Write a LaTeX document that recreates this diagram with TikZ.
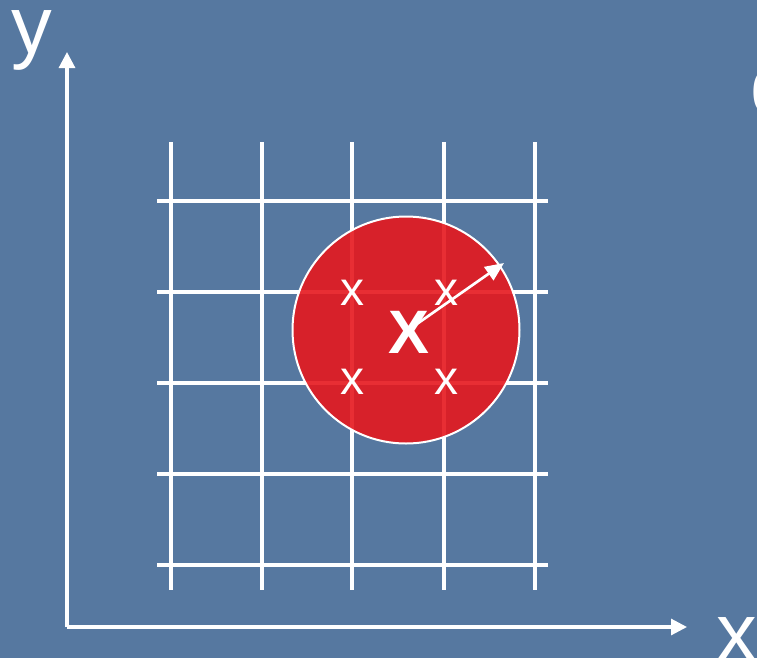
\documentclass[tikz,border=0pt]{standalone}
\usepackage{fontspec}
\setmainfont{Liberation Sans}
\usetikzlibrary{arrows.meta}
\definecolor{bgblue}{RGB}{86,120,160}
\definecolor{discred}{RGB}{230,24,30}
\tikzset{
  gridline/.style={draw=white, line width=2.3pt},
  axisline/.style={draw=white, line width=2.3pt, -{Triangle[length=12pt,width=12pt]}},
  lbl/.style={text=white, inner sep=0pt, font=\fontsize{36}{36}\selectfont},
  biglbl/.style={text=white, inner sep=0pt, font=\fontsize{61}{61}\selectfont},
}
\begin{document}
\begin{tikzpicture}[x=0.75pt,y=-0.75pt]
\fill[bgblue] (0,0) rectangle (757,658);
\useasboundingbox (0,0) rectangle (757,658);
\clip (0,0) rectangle (757,658);
% grid
\foreach \gx in {171,262,352,444,535} \draw[gridline] (\gx,142) -- (\gx,590);
\foreach \gy in {201,292,383,474,565} \draw[gridline] (157,\gy) -- (548,\gy);
% axes
\coordinate (o) at (67,627);
\coordinate (ytip) at (67,52);
\coordinate (xtip) at (687,627);
\draw[axisline] (o) -- (ytip);
\draw[axisline] (o) -- (xtip);
\node[biglbl, anchor=base west] (ylab) at (11,53) {y};
\node[biglbl, anchor=base west] (xlab) at (716,660) {x};
\node[biglbl, anchor=base west] (dlab) at (750,113) {d};
% disc
\node[circle, minimum size=227*0.75pt, fill=discred, fill opacity=0.9, draw=white, line width=1.5pt, inner sep=0pt] (disc) at (406,330) {};
% sample points
\node[lbl] (p1) at (352,293) {x};
\node[lbl] (p2) at (446,293) {x};
\node[lbl] (p3) at (352,382) {x};
\node[lbl] (p4) at (446,382) {x};
\node[text=white, inner sep=0pt, font=\bfseries\fontsize{46}{46}\selectfont] (ctr) at (409,332) {X};
\coordinate (c) at (414,326);
\coordinate (r) at (504,263);
\draw[draw=white, line width=2pt, -{Triangle[length=14pt,width=12pt]}] (c) -- (r);
\end{tikzpicture}
\end{document}
